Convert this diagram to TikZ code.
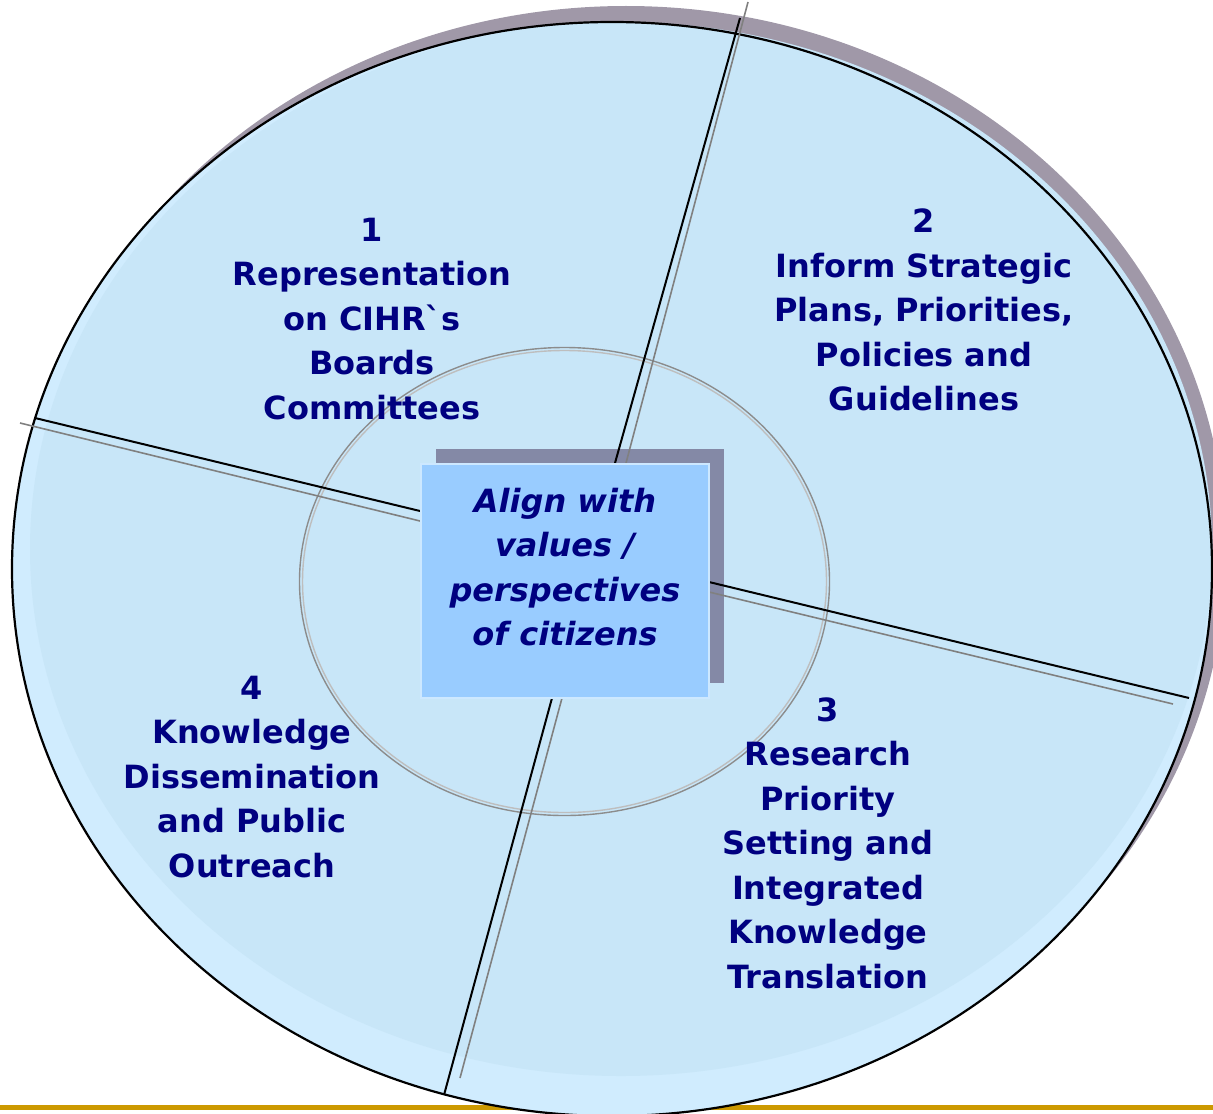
\documentclass[tikz,border=0pt]{standalone}
\usepackage{fontspec}
\newfontfamily\lab{DejaVu Sans}[Ligatures=ResetAll]
\definecolor{navytext}{RGB}{0,0,128}
\definecolor{goldline}{RGB}{204,153,0}
\definecolor{outershadow}{RGB}{160,152,168}
\definecolor{rimfill}{RGB}{208,236,254}
\definecolor{mainfill}{RGB}{200,230,248}
\definecolor{boxfill}{RGB}{153,204,255}
\definecolor{boxrim}{RGB}{205,232,255}
\definecolor{boxshadow}{RGB}{132,137,166}
\definecolor{ringdark}{RGB}{140,140,140}
\definecolor{ringlight}{RGB}{190,190,190}
\begin{document}
\begin{tikzpicture}[x=0.5pt,y=-0.5pt,
  lbl/.style={text=navytext, font=\lab\bfseries\fontsize{16}{22.25}\selectfont, align=center, inner sep=0pt},
  corebox/.style={fill=boxfill, draw=boxrim, line width=1pt, minimum width=144pt, minimum height=117pt, inner sep=0pt},
  coretext/.style={text=navytext, font=\lab\bfseries\itshape\fontsize{16}{22.25}\selectfont, align=center, inner sep=0pt},
  blackdiv/.style={black, line width=1pt},
  graydiv/.style={gray, line width=0.8pt}]
\useasboundingbox (0,0) rectangle (1213,1113);
% gold rule
\fill[goldline] (0,1105) rectangle (1213,1109.5);
% big disc
\fill[outershadow] (626,553) ellipse [x radius=300pt, y radius=273.5pt];
\fill[rimfill] (612,569) ellipse [x radius=300pt, y radius=273.5pt];
\fill[mainfill] (621,549) ellipse [x radius=295.5pt, y radius=263.5pt];
\draw[line width=1.1pt] (612,569) ellipse [x radius=300pt, y radius=273.5pt];
% inner ring
\draw[ringdark, line width=0.7pt] (564.5,581.5) ellipse [x radius=132.5pt, y radius=117pt];
\draw[ringlight, line width=0.7pt] (564.5,581.5) ellipse [x radius=131pt, y radius=115.5pt];
% shadow of centre box
\fill[boxshadow] (436,449) rectangle (724,683);
% dividers
\coordinate (t1) at (740,18);   \coordinate (t2) at (615,463);
\coordinate (t3) at (748,2);    \coordinate (t4) at (626,463);
\coordinate (l1) at (35,418);   \coordinate (l2) at (420,511);
\coordinate (l3) at (20,423);   \coordinate (l4) at (420,521);
\coordinate (r1) at (709,582);  \coordinate (r2) at (1189,698);
\coordinate (r3) at (709,592);  \coordinate (r4) at (1173,704);
\coordinate (b1) at (552,698);  \coordinate (b2) at (444,1095);
\coordinate (b3) at (562,698);  \coordinate (b4) at (460,1078);
\draw[blackdiv] (t1) -- (t2); \draw[graydiv] (t3) -- (t4);
\draw[blackdiv] (l1) -- (l2); \draw[graydiv] (l3) -- (l4);
\draw[blackdiv] (r1) -- (r2); \draw[graydiv] (r3) -- (r4);
\draw[blackdiv] (b1) -- (b2); \draw[graydiv] (b3) -- (b4);
% centre box
\node[corebox] (centre) at (564.5,580.5) {};
\node[coretext] (centretext) at (565,567) {Align with\\values /\\perspectives\\of citizens};
% quadrant labels
\node[lbl] (q1) at (372,319) {1\\Representation\\on CIHR\symbol{96}s\\Boards\\Committees};
\node[lbl] (q2) at (924,310) {2\\Inform Strategic\\Plans, Priorities,\\Policies and\\Guidelines};
\node[lbl] (q3) at (828,843) {3\\Research\\Priority\\Setting and\\Integrated\\Knowledge\\Translation};
\node[lbl] (q4) at (252,777) {4\\Knowledge\\Dissemination\\and Public\\Outreach};
\end{tikzpicture}
\end{document}
